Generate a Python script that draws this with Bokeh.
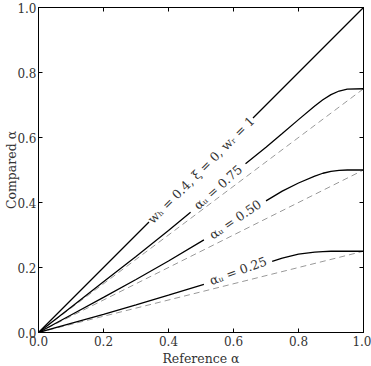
import numpy as np
from bokeh.plotting import figure
from bokeh.models import Range1d, LinearAxis, FixedTicker, PrintfTickFormatter
from bokeh.core.properties import value
from bokeh.embed import file_html
from bokeh.resources import INLINE

nan = np.nan

# Tick positions shared by both axes
tick_values = [0.0, 0.2, 0.4, 0.6, 0.8, 1.0]

# Identity reference (w_h = 0.4, xi = 0, w_r = 1), broken where its label sits
identity_x = [0.0, 0.34, nan, 0.66, 1.0]
identity_y = [0.0, 0.34, nan, 0.66, 1.0]

# Upper-bound levels for the alpha_u family
alpha_u_levels = [0.75, 0.50, 0.25]

# Compared alpha for each alpha_u (solid curves, gap at the inline label)
curve_x_075 = [0.0, 0.1, 0.2, 0.3, 0.4, 0.468, nan, 0.637, 0.7, 0.75, 0.8, 0.85, 0.875, 0.9, 0.925, 0.95, 1.0]
curve_y_075 = [0.0, 0.078, 0.156, 0.234, 0.314, 0.370, nan, 0.519, 0.570, 0.612, 0.655, 0.697, 0.716, 0.732, 0.743, 0.749, 0.75]

curve_x_050 = [0.0, 0.1, 0.2, 0.3, 0.4, 0.509, nan, 0.70, 0.75, 0.8, 0.85, 0.875, 0.9, 0.925, 0.95, 1.0]
curve_y_050 = [0.0, 0.054, 0.108, 0.163, 0.220, 0.285, nan, 0.405, 0.435, 0.460, 0.481, 0.490, 0.496, 0.499, 0.50, 0.50]

curve_x_025 = [0.0, 0.1, 0.2, 0.3, 0.4, 0.509, nan, 0.719, 0.75, 0.8, 0.85, 0.875, 0.9, 0.95, 1.0]
curve_y_025 = [0.0, 0.028, 0.056, 0.085, 0.115, 0.148, nan, 0.219, 0.229, 0.241, 0.247, 0.249, 0.25, 0.25, 0.25]

# Inline curve labels: text, anchor and angle (degrees)
label_text = ["w\u2095 = 0.4, \u03be = 0, w\u1d63 = 1",
              "\u03b1\u1d64 = 0.75", "\u03b1\u1d64 = 0.50", "\u03b1\u1d64 = 0.25"]
label_x = [0.50, 0.552, 0.605, 0.614]
label_y = [0.50, 0.447, 0.348, 0.190]
label_angle = [45.0, 41.5, 34.0, 20.0]

SERIF = "DejaVu Serif"

p = figure(width=371, height=366, frame_width=325, frame_height=325,
           output_backend="svg", toolbar_location=None,
           x_range=Range1d(0, 1), y_range=Range1d(0, 1),
           min_border_left=38, min_border_right=8, min_border_top=7, min_border_bottom=34)
p.grid.visible = False
p.background_fill_color = "white"
p.border_fill_color = "white"
p.outline_line_color = "black"
p.outline_line_width = 1

ticker = FixedTicker(ticks=tick_values)
for ax in (p.xaxis[0], p.yaxis[0]):
    ax.ticker = ticker
    ax.formatter = PrintfTickFormatter(format="%.1f")
    ax.major_tick_in = 4
    ax.major_tick_out = 0
    ax.minor_tick_line_color = None
    ax.major_label_text_font = SERIF
    ax.major_label_text_font_size = "12px"
    ax.major_label_text_color = "#333333"
    ax.axis_label_text_font = SERIF
    ax.axis_label_text_font_size = "12.5px"
    ax.axis_label_text_font_style = "normal"
    ax.axis_label_text_color = "#333333"
    ax.axis_line_color = "black"
    ax.major_label_standoff = 3
    ax.axis_label_standoff = 2
p.yaxis.major_label_standoff = 2
p.yaxis.axis_label_standoff = -5
p.xaxis.axis_label = "Reference \u03b1"
p.yaxis.axis_label = "Compared \u03b1"

# Mirror ticks on the top and right edges, without labels
for side in ("above", "right"):
    ax = LinearAxis(ticker=ticker, major_tick_in=4, major_tick_out=0,
                    minor_tick_line_color=None,
                    major_label_overrides={t: "" for t in tick_values},
                    major_label_standoff=0, axis_line_color="black")
    p.add_layout(ax, side)

# Linear references alpha_u * alpha (dashed)
for a in alpha_u_levels:
    p.line([0.0, 1.0], [0.0, a], line_color="#9a9a9a", line_width=1, line_dash="6 4")

p.line(identity_x, identity_y, line_color="black", line_width=1.3)
for xs, ys in ((curve_x_075, curve_y_075), (curve_x_050, curve_y_050), (curve_x_025, curve_y_025)):
    p.line(xs, ys, line_color="black", line_width=1.3)

p.text(x=label_x, y=label_y, text=label_text, angle=label_angle, angle_units="deg",
       text_align="center", text_baseline="middle", text_font=value(SERIF),
       text_font_size="12.5px", text_color="#333333")

open("out.html", "w").write(file_html(p, INLINE))
